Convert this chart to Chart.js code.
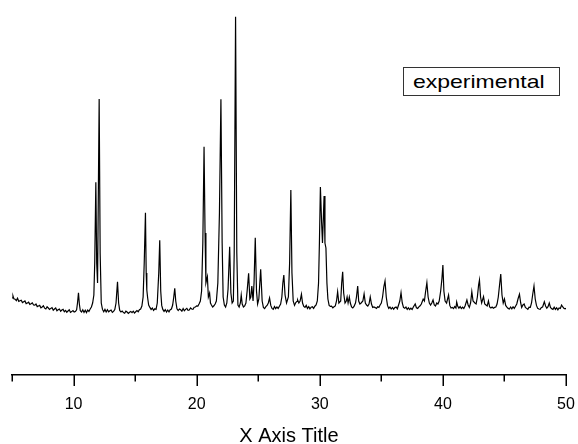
<!DOCTYPE html>
<html>
<head>
<meta charset="utf-8">
<script src="https://cdn.jsdelivr.net/npm/chart.js@4/dist/chart.umd.min.js"></script>
<style>
  html, body { margin: 0; padding: 0; background: #fff; }
  #wrap { position: relative; width: 578px; height: 444px; }
  #legendBox {
    position: absolute; left: 403px; top: 67px; width: 157px; height: 29px;
    box-sizing: border-box; border: 1px solid #333; background: #fff;
  }
  #legendBox span {
    position: absolute; left: 9px; top: 4px; white-space: nowrap;
    font: 19px/19px "Liberation Sans", Arial, sans-serif; color: #000;
    transform: scaleX(1.21); transform-origin: left center;
  }
</style>
</head>
<body>
<div id="wrap">
  <canvas id="c" width="578" height="444"></canvas>
  <div id="legendBox"><span id="legendText"></span></div>
</div>
<script>
// ---- data ----
const seriesName = "experimental";
const xTitle = "X Axis Title";
const tickLabels = [10, 20, 30, 40, 50];

const twoTheta = [
  5.00,5.08,5.15,5.25,5.35,5.45,5.55,5.65,5.75,5.85,5.95,6.05,6.15,6.25,6.35,6.45,6.55,6.65,6.75,6.85,
  6.95,7.05,7.15,7.25,7.35,7.45,7.55,7.65,7.75,7.85,7.95,8.05,8.15,8.25,8.35,8.45,8.55,8.65,8.75,8.85,
  8.95,9.05,9.15,9.25,9.35,9.45,9.55,9.65,9.75,9.85,9.95,10.05,10.15,10.25,10.32,10.40,10.47,10.55,10.65,10.75,
  10.85,10.95,11.05,11.15,11.25,11.35,11.45,11.55,11.65,11.72,11.81,11.88,11.95,12.08,12.16,12.25,12.35,12.45,12.55,12.65,
  12.75,12.85,12.95,13.05,13.15,13.25,13.35,13.45,13.57,13.66,13.75,13.85,13.95,14.05,14.15,14.25,14.35,14.45,14.55,14.65,
  14.75,14.85,14.95,15.05,15.15,15.25,15.35,15.45,15.55,15.65,15.74,15.84,15.90,15.95,16.02,16.10,16.20,16.30,16.40,16.50,
  16.60,16.70,16.80,16.92,17.00,17.08,17.16,17.25,17.35,17.45,17.55,17.65,17.75,17.85,17.95,18.05,18.14,18.22,18.30,18.40,
  18.50,18.60,18.70,18.80,18.90,19.00,19.10,19.20,19.30,19.40,19.50,19.60,19.70,19.80,19.90,20.00,20.10,20.20,20.30,20.40,
  20.50,20.60,20.68,20.75,20.87,20.95,21.05,21.12,21.20,21.30,21.40,21.50,21.60,21.72,21.85,21.97,22.07,22.15,22.25,22.35,
  22.45,22.55,22.68,22.78,22.88,22.98,23.05,23.16,23.26,23.35,23.45,23.55,23.62,23.70,23.80,23.90,24.00,24.10,24.22,24.32,
  24.40,24.48,24.58,24.66,24.76,24.86,24.95,25.05,25.20,25.32,25.42,25.52,25.62,25.72,25.82,25.92,26.02,26.12,26.22,26.32,
  26.42,26.52,26.62,26.72,26.82,26.92,27.00,27.08,27.18,27.30,27.45,27.55,27.65,27.74,27.84,27.95,28.05,28.15,28.20,28.30,
  28.40,28.51,28.60,28.70,28.80,28.90,29.00,29.10,29.20,29.30,29.40,29.50,29.60,29.70,29.80,29.90,29.97,30.05,30.15,30.22,
  30.35,30.42,30.50,30.58,30.66,30.76,30.86,30.96,31.06,31.16,31.26,31.36,31.45,31.55,31.70,31.78,31.86,31.94,32.05,32.15,
  32.22,32.30,32.40,32.48,32.58,32.68,32.78,32.90,32.98,33.08,33.16,33.26,33.36,33.50,33.60,33.70,33.80,33.90,34.00,34.10,
  34.20,34.30,34.40,34.50,34.60,34.70,34.80,34.90,35.00,35.10,35.20,35.30,35.40,35.50,35.60,35.70,35.80,35.90,36.00,36.10,
  36.20,36.30,36.40,36.50,36.60,36.70,36.80,36.90,37.00,37.10,37.20,37.30,37.40,37.50,37.60,37.75,37.85,37.95,38.05,38.15,
  38.25,38.40,38.50,38.58,38.70,38.80,38.90,39.00,39.10,39.20,39.30,39.40,39.50,39.60,39.70,39.82,39.92,40.00,40.08,40.18,
  40.30,40.46,40.56,40.66,40.76,40.86,40.96,41.06,41.12,41.20,41.30,41.40,41.50,41.60,41.70,41.80,41.95,42.05,42.15,42.25,
  42.35,42.45,42.60,42.70,42.80,42.90,42.97,43.06,43.15,43.30,43.40,43.50,43.60,43.70,43.80,43.90,44.00,44.10,44.20,44.30,
  44.40,44.50,44.62,44.70,44.80,44.90,45.00,45.10,45.20,45.30,45.40,45.50,45.60,45.70,45.80,45.90,46.00,46.10,46.22,46.32,
  46.40,46.50,46.60,46.70,46.80,46.90,47.00,47.10,47.20,47.30,47.40,47.50,47.60,47.70,47.80,47.90,48.00,48.10,48.24,48.34,
  48.44,48.54,48.64,48.74,48.84,48.94,49.04,49.14,49.24,49.34,49.44,49.54,49.64,49.74,49.84,49.94,50.00
];

const intensity = [
  750,770,742,738,724,748,716,722,728,704,712,720,694,700,708,686,692,702,680,678,
  690,664,670,676,652,660,672,648,640,662,650,636,646,654,628,640,650,622,632,640,
  618,630,636,612,626,608,620,632,606,614,624,610,614,632,700,803,690,622,610,632,
  606,628,604,630,616,640,660,700,780,1100,1907,1100,900,2740,1200,700,636,612,636,610,
  632,612,622,630,606,616,634,700,913,700,626,610,620,604,598,618,610,596,608,616,
  604,618,600,612,624,612,634,640,670,760,1100,1603,1000,830,750,680,656,636,650,626,
  642,636,700,1000,1327,820,676,636,616,634,610,630,612,634,640,680,760,847,720,642,
  624,640,632,618,644,622,636,646,626,630,650,640,636,658,660,672,670,692,720,820,
  1300,2263,1400,900,963,760,800,700,680,660,672,690,720,900,1600,2737,1300,760,680,660,
  700,840,1263,800,700,720,1200,3563,1200,680,660,700,780,690,660,670,700,820,997,740,
  760,870,720,900,1353,820,690,740,1037,720,656,644,664,676,700,750,676,646,636,664,
  644,660,646,668,690,760,900,980,780,700,760,1100,1830,1000,720,676,704,716,730,700,
  720,787,700,666,656,676,646,664,642,658,662,646,668,680,720,900,1300,1860,1500,1300,
  1770,1300,1250,900,740,676,666,668,652,662,670,720,813,700,720,900,1013,800,700,720,
  760,700,760,700,660,650,666,700,760,870,720,690,700,720,790,700,680,670,690,760,
  690,656,660,654,646,662,656,680,700,760,860,920,760,676,646,660,640,656,638,654,
  660,642,680,720,803,700,656,648,660,636,652,634,648,636,660,690,652,646,662,672,
  690,740,720,800,903,760,700,680,700,730,680,670,700,690,720,820,940,1080,820,720,
  700,780,676,650,656,644,664,650,710,670,648,664,644,658,646,670,730,680,656,700,
  813,720,700,690,760,880,930,760,700,763,690,680,670,720,660,650,660,648,656,660,
  690,760,900,990,780,700,740,676,658,646,640,660,642,662,646,668,690,740,787,700,
  656,680,690,656,646,636,658,656,700,790,870,740,676,646,640,636,656,660,713,670,
  648,664,700,656,642,636,658,636,652,632,650,646,680,660,646,642,648
];

document.getElementById('legendText').textContent = seriesName;

const points = twoTheta.map((x, i) => ({ x: x, y: intensity[i] }));

const tickMarks = {
  id: 'tickMarks',
  afterDraw(chart) {
    const sx = chart.scales.x;
    const ctx = chart.ctx;
    const y0 = chart.chartArea.bottom;
    ctx.save();
    ctx.strokeStyle = '#000';
    ctx.lineWidth = 1.5;
    sx.ticks.forEach(t => {
      const px = Math.round(sx.getPixelForValue(t.value)) + 0.25;
      const major = tickLabels.includes(t.value);
      ctx.beginPath();
      ctx.moveTo(px, y0);
      ctx.lineTo(px, y0 + (major ? 11 : 6.5));
      ctx.stroke();
    });
    ctx.restore();
  }
};

new Chart(document.getElementById('c'), {
  type: 'line',
  data: {
    datasets: [{
      label: seriesName,
      data: points,
      borderColor: '#000',
      borderWidth: 1.2,
      pointRadius: 0,
      tension: 0,
      fill: false
    }]
  },
  options: {
    responsive: false,
    animation: false,
    devicePixelRatio: 1,
    layout: { padding: { left: 12, right: 12, top: 15, bottom: 0 } },
    plugins: { legend: { display: false }, tooltip: { enabled: false } },
    scales: {
      x: {
        type: 'linear',
        min: 5, max: 50,
        afterFit(scale) { scale.height = 69; },
        border: { display: true, color: '#000', width: 1.5 },
        grid: { display: true, drawOnChartArea: false, drawTicks: true, tickLength: 20, tickColor: 'rgba(0,0,0,0)' },
        ticks: {
          stepSize: 5,
          autoSkip: false,
          maxRotation: 0,
          padding: 0,
          color: '#000',
          font: { family: '"Liberation Sans", Arial, sans-serif', size: 16 },
          callback: (v) => tickLabels.includes(v) ? String(v) : ''
        },
        title: {
          display: true,
          text: xTitle,
          color: '#000',
          font: { family: '"Liberation Sans", Arial, sans-serif', size: 20, lineHeight: 0.8 },
          padding: { top: 14, bottom: 0 }
        }
      },
      y: {
        display: false,
        min: -20, max: 3580
      }
    }
  },
  plugins: [tickMarks]
});
</script>
</body>
</html>
